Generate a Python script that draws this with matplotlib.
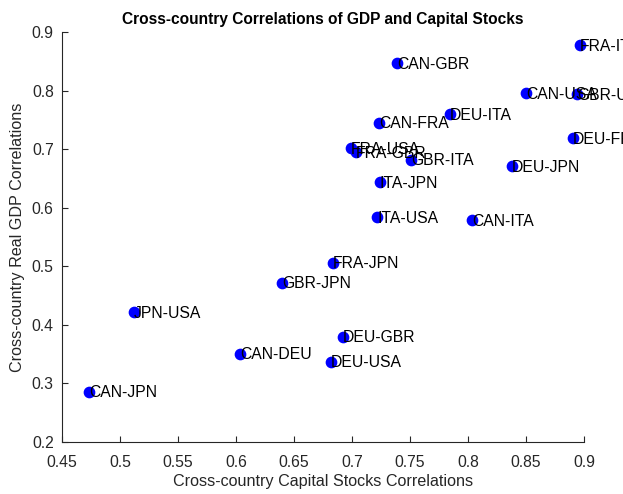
import matplotlib
matplotlib.use("Agg")
import matplotlib.pyplot as plt

pairs = ["FRA-ITA", "CAN-GBR", "CAN-USA", "GBR-USA", "DEU-ITA", "CAN-FRA", "DEU-FRA",
         "FRA-USA", "FRA-GBR", "GBR-ITA", "DEU-JPN", "ITA-JPN", "ITA-USA", "CAN-ITA",
         "FRA-JPN", "GBR-JPN", "JPN-USA", "DEU-GBR", "CAN-DEU", "DEU-USA", "CAN-JPN"]
capital_corr = [0.8966, 0.7388, 0.850, 0.894, 0.7845, 0.7233, 0.8905,
                0.699, 0.7034, 0.7509, 0.838, 0.7241, 0.7216, 0.8034,
                0.6836, 0.6397, 0.512, 0.6922, 0.6034, 0.6819, 0.4733]
gdp_corr = [0.878, 0.847, 0.796, 0.794, 0.760, 0.745, 0.719,
            0.702, 0.695, 0.682, 0.671, 0.644, 0.584, 0.579,
            0.506, 0.472, 0.422, 0.380, 0.351, 0.337, 0.286]

xticks = [0.45, 0.5, 0.55, 0.6, 0.65, 0.7, 0.75, 0.8, 0.85, 0.9]
xticklabels = ["0.45", "0.5", "0.55", "0.6", "0.65", "0.7", "0.75", "0.8", "0.85", "0.9"]
yticks = [0.2, 0.3, 0.4, 0.5, 0.6, 0.7, 0.8, 0.9]
yticklabels = ["0.2", "0.3", "0.4", "0.5", "0.6", "0.7", "0.8", "0.9"]

plt.rcParams['font.family'] = ['Liberation Sans', 'DejaVu Sans']

fig = plt.figure(figsize=(6.23, 4.94), dpi=100)
ax = fig.add_axes([62/623, 1-442/494, (584-62)/623, (442-32)/494])

ax.scatter(capital_corr, gdp_corr, s=55, color='#0000ff', zorder=3, clip_on=False)
for x, y, lab in zip(capital_corr, gdp_corr, pairs):
    ax.text(x, y - 0.002, lab, ha='left', va='center', fontsize=11.3, color='black',
            zorder=4, clip_on=False)

ax.set_xlim(0.45, 0.9)
ax.set_ylim(0.2, 0.9)
ax.set_xticks(xticks)
ax.set_xticklabels(xticklabels)
ax.set_yticks(yticks)
ax.set_yticklabels(yticklabels)
ax.tick_params(direction='in', length=4, colors='#262626', labelsize=11.3, width=0.8)
ax.tick_params(axis='x', pad=9)
ax.tick_params(axis='y', pad=6)
for s in ['top', 'right']:
    ax.spines[s].set_visible(False)
for s in ['left', 'bottom']:
    ax.spines[s].set_color('#262626')
    ax.spines[s].set_linewidth(0.8)

ax.set_xlabel("Cross-country Capital Stocks Correlations", fontsize=11.6, color='#262626', labelpad=3)
ax.set_ylabel("Cross-country Real GDP Correlations", fontsize=11.6, color='#262626', labelpad=5)
ax.set_title("Cross-country Correlations of GDP and Capital Stocks", fontsize=11.2,
             fontweight='bold', color='black', pad=6)

fig.savefig("out.png", dpi=100)
